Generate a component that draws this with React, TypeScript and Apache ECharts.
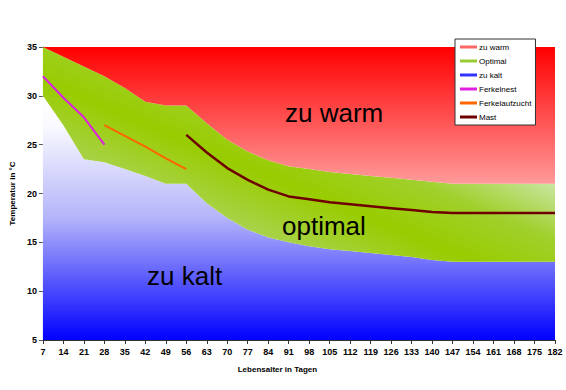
import React, { useEffect, useRef } from "react";
import * as echarts from "echarts";

// X categories: age in days
const days = [7, 14, 21, 28, 35, 42, 49, 56, 63, 70, 77, 84, 91, 98, 105, 112, 119, 126, 133, 140, 147, 154, 161, 168, 175, 182];
// lower limit of the optimal band (°C)
const lowerBound = [30, 27, 23.5, 23.2, 22.5, 21.8, 21, 21, 19, 17.5, 16.3, 15.5, 15, 14.6, 14.3, 14.1, 13.9, 13.7, 13.5, 13.2, 13, 13, 13, 13, 13, 13];
// upper limit of the optimal band (°C)
const upperBound = [35, 34, 33, 32, 30.8, 29.4, 29, 29, 27.2, 25.5, 24.3, 23.4, 22.8, 22.5, 22.2, 22, 21.8, 21.6, 21.4, 21.2, 21, 21, 21, 21, 21, 21];
const yMin = 5;
const yMax = 35;
const yStep = 5;

// Line series (values start at the given day)
const ferkelnestStart = 7;
const ferkelnest = [32, 29.8, 27.8, 25];
const ferkelaufzuchtStart = 28;
const ferkelaufzucht = [27, 25.9, 24.8, 23.6, 22.5];
const mastStart = 56;
const mast = [26, 24.2, 22.6, 21.4, 20.4, 19.7, 19.4, 19.1, 18.9, 18.7, 18.5, 18.3, 18.1, 18, 18, 18, 18, 18, 18];

const legendNames = ["zu warm", "Optimal", "zu kalt", "Ferkelnest", "Ferkelaufzucht", "Mast"];
const zoneLabels = ["zu warm", "optimal", "zu kalt"];

const pad = (vals: number[], start: number) =>
  days.map((d) => {
    const i = days.indexOf(start);
    const k = days.indexOf(d) - i;
    return k >= 0 && k < vals.length ? vals[k] : null;
  });

const FONT = "'Liberation Sans', Arial, sans-serif";

export default function App() {
  const ref = useRef<HTMLDivElement>(null);
  useEffect(() => {
    if (!ref.current) return;
    const chart = echarts.init(ref.current, undefined, { renderer: "svg" });
    const band = upperBound.map((u, i) => +(u - lowerBound[i]).toFixed(2));
    const warm = upperBound.map((u) => +(yMax - u).toFixed(2));
    const lin = (stops: [number, string][], x0 = 0, y0 = 0, x1 = 0, y1 = 1) =>
      new echarts.graphic.LinearGradient(x0, y0, x1, y1, stops.map(([offset, color]) => ({ offset, color })));
    const option: any = {
      animation: false,
      textStyle: { fontFamily: FONT },
      grid: { left: 42, right: 11, top: 47, bottom: 50 },
      legend: {
        data: legendNames,
        orient: "vertical",
        left: 455,
        top: 39,
        icon: "rect",
        itemWidth: 17,
        itemHeight: 3,
        itemGap: 6,
        padding: [4, 4, 4, 5],
        backgroundColor: "#ffffff",
        borderColor: "#333333",
        borderWidth: 1,
        borderRadius: 0,
        selectedMode: false,
        textStyle: { fontSize: 8, color: "#000", fontFamily: FONT, padding: [0, 0, 0, -3] },
      },
      xAxis: {
        type: "category",
        data: days.map(String),
        boundaryGap: false,
        name: "Lebensalter in Tagen",
        nameLocation: "middle",
        nameGap: 25,
        nameTextStyle: { fontSize: 8, fontWeight: "bold", color: "#000", fontFamily: FONT, padding: [0, 43, 0, 0] },
        axisLine: { show: true, lineStyle: { color: "#333", width: 1 } },
        axisTick: { show: true, alignWithLabel: true, length: 4, lineStyle: { color: "#333" } },
        axisLabel: { interval: 0, fontSize: 9, fontWeight: "bold", color: "#000", margin: 7, fontFamily: FONT },
        splitLine: { show: false },
      },
      yAxis: {
        type: "value",
        min: yMin,
        max: yMax,
        interval: yStep,
        name: "Temperatur in °C",
        nameLocation: "middle",
        nameGap: 25,
        nameTextStyle: { fontSize: 8, fontWeight: "bold", color: "#000", fontFamily: FONT },
        axisLine: { show: true, lineStyle: { color: "#555", width: 1 } },
        axisTick: { show: true, length: 4, lineStyle: { color: "#555" } },
        axisLabel: { fontSize: 9, fontWeight: "bold", color: "#000", margin: 6, fontFamily: FONT },
        splitLine: { show: false },
      },
      series: [
        {
          name: "zu kalt",
          type: "line",
          stack: "bg",
          data: lowerBound,
          symbol: "none",
          silent: true,
          z: 1,
          itemStyle: { color: "#3333ff" },
          lineStyle: { width: 0 },
          areaStyle: {
            origin: "start",
            opacity: 1,
            color: lin([[0, "#ffffff"], [0.12, "#fafaff"], [0.5, "#b4b4fa"], [1, "#0000ff"]]),
          },
        },
        {
          name: "Optimal",
          type: "line",
          stack: "bg",
          data: band,
          symbol: "none",
          silent: true,
          z: 1,
          itemStyle: { color: "#99cc33" },
          lineStyle: { width: 0 },
          areaStyle: {
            opacity: 1,
            color: lin(
              [[0, "#c0de94"], [0.28, "#a8d248"], [0.42, "#99cc00"], [0.55, "#a0d02c"], [0.7, "#d0e8b2"], [1, "#e8f4dc"]],
              0, 1, 1, 0
            ),
          },
        },
        {
          name: "zu warm",
          type: "line",
          stack: "bg",
          data: warm,
          symbol: "none",
          silent: true,
          z: 1,
          itemStyle: { color: "#ff6666" },
          lineStyle: { width: 0 },
          areaStyle: {
            opacity: 1,
            color: lin([[0, "#ff0000"], [1, "#ff9a9a"]]),
          },
        },
        {
          name: "Ferkelnest",
          type: "line",
          data: pad(ferkelnest, ferkelnestStart),
          symbol: "none",
          z: 5,
          itemStyle: { color: "#e020e0" },
          lineStyle: { width: 2, color: "#e020e0" },
        },
        {
          name: "Ferkelaufzucht",
          type: "line",
          data: pad(ferkelaufzucht, ferkelaufzuchtStart),
          symbol: "none",
          z: 5,
          itemStyle: { color: "#ff6600" },
          lineStyle: { width: 2, color: "#ff6600" },
        },
        {
          name: "Mast",
          type: "line",
          data: pad(mast, mastStart),
          symbol: "none",
          z: 5,
          itemStyle: { color: "#6e0000" },
          lineStyle: { width: 2.5, color: "#6e0000" },
        },
      ],
      graphic: [
        { type: "text", z: 100, left: 285, top: 100, style: { text: zoneLabels[0], font: `26px ${FONT}`, fill: "#000" } },
        { type: "text", z: 100, left: 282, top: 213, style: { text: zoneLabels[1], font: `26px ${FONT}`, fill: "#000" } },
        { type: "text", z: 100, left: 147, top: 263, style: { text: zoneLabels[2], font: `26px ${FONT}`, fill: "#000" } },
      ],
    };
    chart.setOption(option);
    return () => chart.dispose();
  }, []);
  return <div ref={ref} style={{ position: "fixed", left: 0, top: 0, width: 566, height: 390, background: "#fff" }} />;
}
